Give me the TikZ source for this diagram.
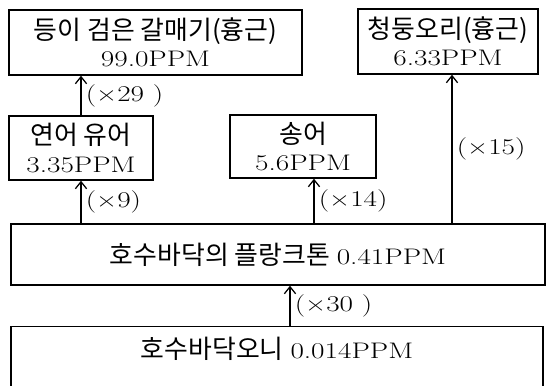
\documentclass[tikz,border=0pt]{standalone}
\usepackage{fontspec}
\usetikzlibrary{arrows.meta}
\newfontfamily\kr[Scale=1.15]{Noto Sans CJK KR}
\newcommand\ppm[1]{\scalebox{1.3}[1]{#1}}
\tikzset{
  box/.style={draw, line width=1pt, align=center, inner sep=0pt,
    font=\fontsize{16}{19.5}\selectfont},
  up/.style={-{Straight Barb[length=5pt,width=8pt]}, line width=0.9pt},
  factor/.style={right, inner sep=3pt, font=\fontsize{16}{19}\selectfont}
}
\begin{document}
\begin{tikzpicture}[x=0.025cm,y=-0.025cm]
    \useasboundingbox (0,0) rectangle (548,386);
    % Boxes
    \node[box, minimum width=7.325cm, minimum height=1.625cm] (gull) at (155.5,42.5)
         {{\kr 등이 검은 갈매기(흉근)}\\\ppm{99.0PPM}};
    \node[box, minimum width=4.5cm, minimum height=1.625cm] (duck) at (448,41.5)
         {{\kr 청둥오리(흉근)}\\\ppm{6.33PPM}};
    \node[box, minimum width=3.6cm, minimum height=1.6cm] (salmon) at (81,148)
         {{\kr 연어 유어}\\\ppm{3.35PPM}};
    \node[box, minimum width=3.65cm, minimum height=1.575cm] (trout) at (303,146.5)
         {{\kr 송어}\\\ppm{5.6PPM}};
    \node[box, minimum width=13.35cm, minimum height=1.525cm] (plankton) at (278,254.5)
         {{\kr 호수바닥의 플랑크톤} \ppm{0.41PPM}};
    \node[box, minimum width=13.3cm, anchor=north, text height=0.8cm, text depth=0.925cm]
         (mud) at (277,326) {{\kr 호수바닥오니} \ppm{0.014PPM}};
    % Arrow columns
    \coordinate (tx) at (314,0);
    \coordinate (dx) at (452,0);
    \coordinate (mx) at (290,0);
    % Concentration factors
    \draw[up] (salmon.north) -- (salmon.north |- gull.south)
         node[factor, midway] (f29) {\ppm{(×29 )}};
    \draw[up] (plankton.north -| salmon) -- (salmon.south)
         node[factor, midway] (f9) {\ppm{(×9)}};
    \draw[up] (plankton.north -| tx) -- (trout.south -| tx)
         node[factor, midway] (f14) {\ppm{(×14)}};
    \draw[up] (plankton.north -| dx) -- (duck.south -| dx)
         node[factor, midway] (f15) {\ppm{(×15)}};
    \draw[up] (mud.north -| mx) -- (plankton.south -| mx)
         node[factor, midway] (f30) {\ppm{(×30 )}};
\end{tikzpicture}
\end{document}
